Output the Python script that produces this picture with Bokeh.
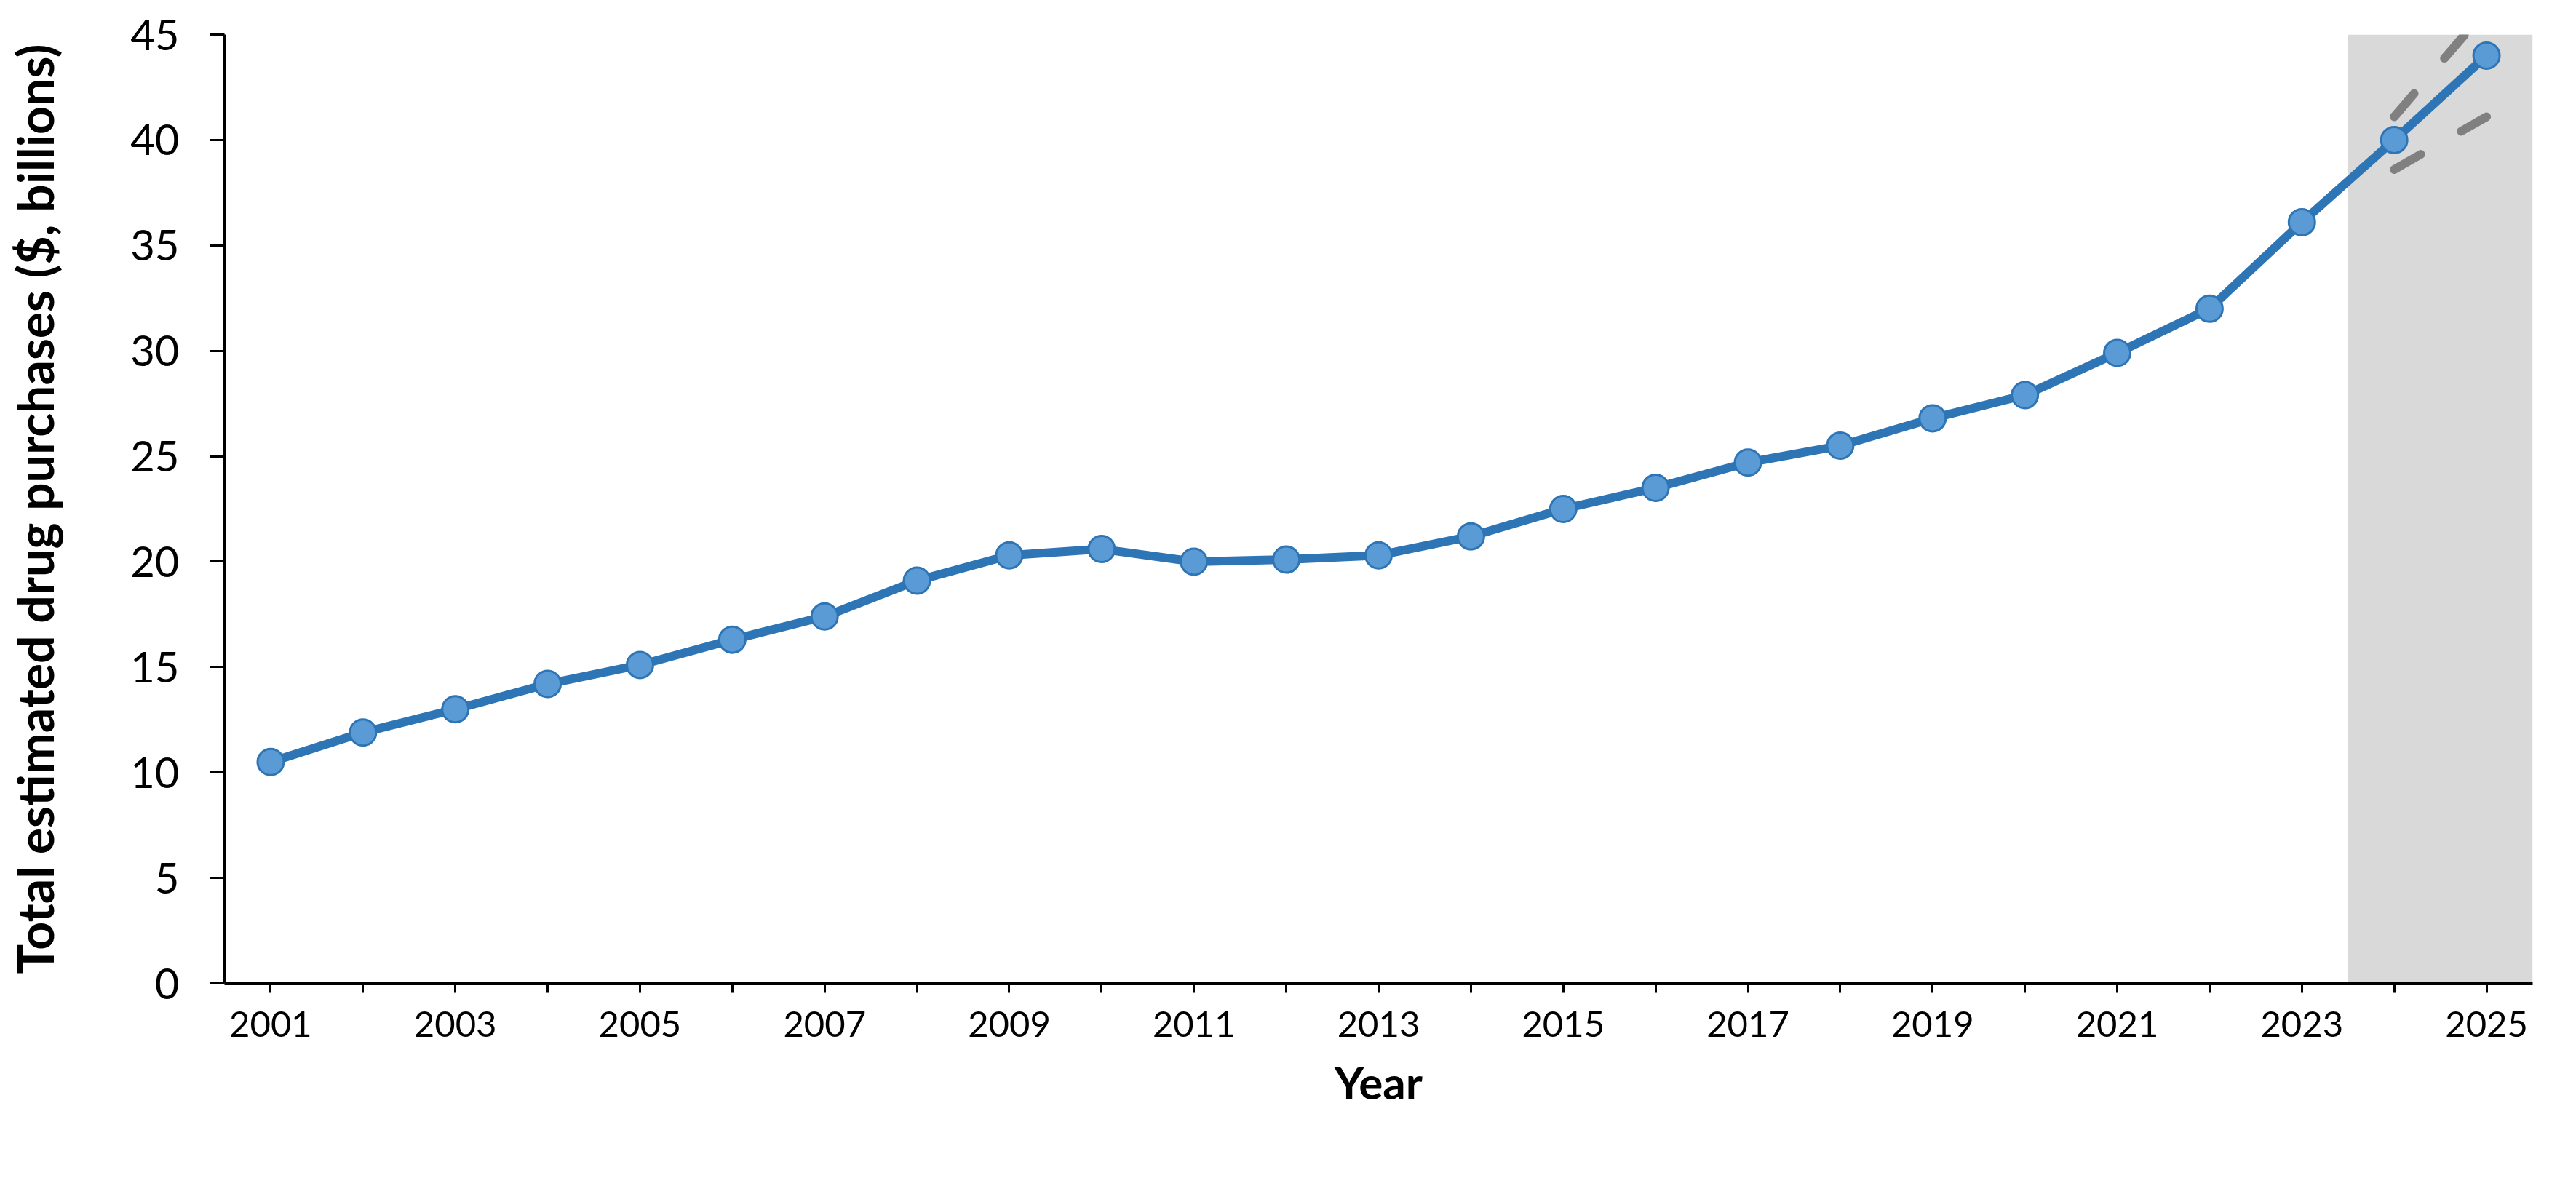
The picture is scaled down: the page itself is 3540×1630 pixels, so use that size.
from bokeh.plotting import figure
from bokeh.models import Range1d, FixedTicker, BoxAnnotation, ColumnDataSource
from bokeh.embed import file_html
from bokeh.resources import INLINE

# data
years = list(range(2001, 2026))
purchases = [10.5, 11.9, 13.0, 14.2, 15.1, 16.3, 17.4, 19.1, 20.3, 20.6,
             20.0, 20.1, 20.3, 21.2, 22.5, 23.5, 24.7, 25.5, 26.8, 27.9,
             29.9, 32.0, 36.1, 40.0, 44.0]
forecast_years = [2024, 2025]
upper_bound = [41.1, 46.2]
lower_bound = [38.6, 41.1]
y_ticks = [0, 5, 10, 15, 20, 25, 30, 35, 40, 45]
tick_labels = ["2001", "2003", "2005", "2007", "2009", "2011", "2013",
               "2015", "2017", "2019", "2021", "2023", "2025"]

FONT = "Lato"

src = ColumnDataSource(dict(year=years, value=purchases))

p = figure(frame_width=3172, frame_height=1304,
           min_border_left=308, min_border_right=40,
           min_border_top=47, min_border_bottom=259,
           x_range=Range1d(years[0] - 0.5, years[-1] + 0.5),
           y_range=Range1d(0, 45),
           output_backend="svg", toolbar_location=None)

p.grid.visible = False
p.outline_line_color = None
p.background_fill_color = "white"

# forecast shading
shade = BoxAnnotation(left=min(forecast_years) - 0.5, right=max(forecast_years) + 0.5,
                      fill_color="#D9D9D9", fill_alpha=1.0, line_alpha=0,
                      level="underlay")
p.add_layout(shade)

# uncertainty bounds
for bound in (upper_bound, lower_bound):
    p.line(forecast_years, bound, line_color="#808080", line_width=12,
           line_dash="42 64", line_cap="round")

p.line("year", "value", source=src, line_color="#2E75B6", line_width=12,
       line_join="round")
p.scatter("year", "value", source=src, size=36, fill_color="#5B9BD5",
          line_color="#2E75B6", line_width=3)

# x axis
xa = p.xaxis[0]
xa.ticker = FixedTicker(ticks=years)
xa.major_label_overrides = {y: (str(y) if str(y) in tick_labels else "") for y in years}
xa.axis_label = "Year"
xa.axis_label_text_font = FONT
xa.axis_label_text_font_style = "bold"
xa.axis_label_text_font_size = "62px"
xa.axis_label_text_color = "black"
xa.axis_label_standoff = 22
xa.major_label_text_font = FONT
xa.major_label_text_font_size = "49px"
xa.major_label_text_color = "black"
xa.major_label_standoff = 25
xa.major_tick_out = 13
xa.major_tick_in = 0
xa.minor_tick_out = 0
xa.minor_tick_in = 0
xa.major_tick_line_width = 3
xa.major_tick_line_color = "black"
xa.axis_line_width = 5
xa.axis_line_color = "black"

# y axis
ya = p.yaxis[0]
ya.ticker = FixedTicker(ticks=y_ticks)
ya.axis_label = "Total estimated drug purchases ($, billions)"
ya.axis_label_text_font = FONT
ya.axis_label_text_font_style = "bold"
ya.axis_label_text_font_size = "68px"
ya.axis_label_text_color = "black"
ya.axis_label_standoff = 88
ya.major_label_text_font = FONT
ya.major_label_text_font_size = "58px"
ya.major_label_text_color = "black"
ya.major_label_standoff = 42
ya.major_tick_out = 20
ya.major_tick_in = 0
ya.minor_tick_out = 0
ya.minor_tick_in = 0
ya.major_tick_line_width = 3
ya.major_tick_line_color = "black"
ya.axis_line_width = 4
ya.axis_line_color = "black"

open("out.html", "w").write(file_html(p, INLINE))
